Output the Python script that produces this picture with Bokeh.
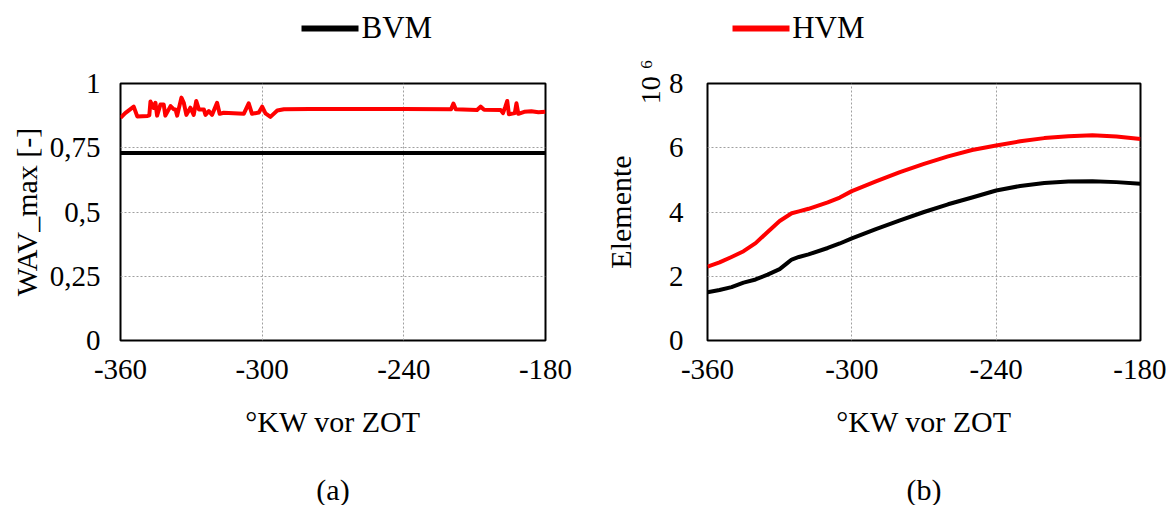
from bokeh.plotting import figure
from bokeh.layouts import column, row
from bokeh.models import (FixedTicker, Legend, LegendItem, Title, Range1d, LinearAxis, Label)
from bokeh.embed import file_html
from bokeh.resources import INLINE

FONT = "Liberation Serif"
TICK_FS = "29px"
LAB_FS = "30px"

series_names = ["BVM", "HVM"]
series_colors = ["black", "#ff0000"]

# (a) WAV_max
wav_bvm_x = [-360, -180]
wav_bvm_y = [0.73, 0.73]
wav_hvm_x = [-360, -358, -354.4, -352.9, -348.5, -347.8, -347.3, -346, -345.2, -344.5, -343.1, -341.7,
             -341, -338.8, -337.5, -336.7, -336, -334.2, -333.2, -332.1, -330.4, -329, -327.9, -326.8,
             -324.7, -324, -322.6, -321.2, -319.1, -318, -316.3, -310, -307.8, -305.7, -304.3, -301.4,
             -300, -298.6, -296.5, -293.6, -290.8, -280, -260, -240, -220, -219, -218, -212, -209,
             -207.5, -206, -199, -198, -197, -196.2, -195.5, -193, -192.3, -191.5, -189, -186, -183, -180]
wav_hvm_y = [0.866, 0.885, 0.91, 0.872, 0.874, 0.876, 0.93, 0.905, 0.925, 0.875, 0.918, 0.918,
             0.875, 0.912, 0.9, 0.899, 0.875, 0.945, 0.925, 0.878, 0.906, 0.878, 0.932, 0.899,
             0.899, 0.878, 0.893, 0.878, 0.925, 0.882, 0.886, 0.883, 0.882, 0.923, 0.882, 0.887,
             0.91, 0.884, 0.87, 0.895, 0.9, 0.901, 0.901, 0.901, 0.9, 0.922, 0.9, 0.898, 0.897,
             0.91, 0.898, 0.897, 0.885, 0.91, 0.932, 0.88, 0.885, 0.923, 0.882, 0.89, 0.892, 0.888, 0.89]

# (b) Elemente (x 10^6)
el_bvm_x = [-360, -355, -350, -345, -340, -335, -330, -327, -325, -322, -318, -310, -305, -300, -290,
            -280, -270, -260, -250, -240, -230, -220, -210, -200, -190, -180]
el_bvm_y = [1.50, 1.57, 1.66, 1.80, 1.90, 2.05, 2.22, 2.40, 2.52, 2.60, 2.68, 2.88, 3.02, 3.18, 3.47,
            3.74, 4.00, 4.24, 4.45, 4.67, 4.81, 4.90, 4.95, 4.96, 4.93, 4.88]
el_hvm_x = [-360, -355, -350, -345, -340, -335, -330, -325, -322, -318, -310, -305, -300, -290, -280,
            -270, -260, -250, -240, -230, -220, -210, -200, -190, -180]
el_hvm_y = [2.30, 2.43, 2.60, 2.78, 3.03, 3.38, 3.72, 3.96, 4.02, 4.10, 4.30, 4.45, 4.65, 4.95, 5.24,
            5.50, 5.73, 5.93, 6.07, 6.20, 6.30, 6.36, 6.39, 6.35, 6.27]

x_ticks = [-360, -300, -240, -180]
x_tick_labels = ["-360", "-300", "-240", "-180"]
wav_ticks = [0, 0.25, 0.5, 0.75, 1]
wav_tick_labels = ["0", "0,25", "0,5", "0,75", "1"]
el_ticks = [0, 2, 4, 6, 8]
el_tick_labels = ["0", "2", "4", "6", "8"]

x_label = "°KW vor ZOT"
captions = ["(a)", "(b)"]


def text_axis(ax):
    ax.axis_line_color = None
    ax.major_tick_line_color = None
    ax.minor_tick_line_color = None
    ax.major_tick_out = 0
    ax.major_tick_in = 0
    ax.minor_tick_out = 0
    ax.minor_tick_in = 0
    ax.major_label_text_font = FONT
    ax.major_label_text_font_size = TICK_FS
    ax.major_label_text_color = "black"
    ax.axis_label_text_font = FONT
    ax.axis_label_text_font_size = LAB_FS
    ax.axis_label_text_font_style = "normal"
    ax.axis_label_text_color = "black"


def style(p, yticks, ylabels):
    p.xaxis.ticker = FixedTicker(ticks=x_ticks)
    p.yaxis.ticker = FixedTicker(ticks=yticks)
    p.xaxis.major_label_overrides = {t: l for t, l in zip(x_ticks, x_tick_labels)}
    p.yaxis.major_label_overrides = {t: l for t, l in zip(yticks, ylabels)}
    text_axis(p.xaxis[0])
    text_axis(p.yaxis[0])
    p.xaxis.major_label_standoff = 19
    p.xaxis.axis_label = x_label
    p.xaxis.axis_label_standoff = 23
    p.grid.grid_line_color = "#a0a0a0"
    p.grid.grid_line_dash = "2 2"
    p.grid.grid_line_width = 1
    p.outline_line_color = "black"
    p.outline_line_width = 2
    p.background_fill_color = None
    p.border_fill_color = None


ROW_H = 418

pa = figure(width=590, height=ROW_H, output_backend="svg", toolbar_location=None,
            x_range=Range1d(-360, -180), y_range=Range1d(0, 1),
            min_border_left=120, min_border_right=45, min_border_top=28, min_border_bottom=133)
style(pa, wav_ticks, wav_tick_labels)
pa.yaxis.major_label_standoff = 20
pa.yaxis.axis_label = "WAV_max [-]"
pa.yaxis.axis_label_standoff = 4
pa.line(wav_bvm_x, wav_bvm_y, line_color=series_colors[0], line_width=4)
pa.line(wav_hvm_x, wav_hvm_y, line_color=series_colors[1], line_width=4, line_join="round")

pb = figure(width=576, height=ROW_H, output_backend="svg", toolbar_location=None,
            x_range=Range1d(-360, -180), y_range=Range1d(0, 8),
            min_border_left=117, min_border_right=26, min_border_top=28, min_border_bottom=133)
style(pb, el_ticks, el_tick_labels)
pb.yaxis.major_label_standoff = 24
# exponent note at the top of the value axis
pb.add_layout(Title(text="10 ⁶", align="right", text_font=FONT, text_font_size="28px",
                    text_font_style="normal", text_color="black", offset=-24, standoff=0), "left")
name_axis = LinearAxis(ticker=FixedTicker(ticks=[]), axis_label="Elemente",
                       axis_label_standoff=-4, major_label_standoff=0)
text_axis(name_axis)
pb.add_layout(name_axis, "left")
pb.line(el_bvm_x, el_bvm_y, line_color=series_colors[0], line_width=4, line_join="round")
pb.line(el_hvm_x, el_hvm_y, line_color=series_colors[1], line_width=4, line_join="round")


def caption_strip(width, left, right, txt):
    c = figure(width=width, height=32, output_backend="svg", toolbar_location=None,
               x_range=Range1d(0, 1), y_range=Range1d(0, 1),
               min_border_left=left, min_border_right=right, min_border_top=0, min_border_bottom=0,
               outline_line_color=None)
    c.axis.visible = False
    c.grid.visible = False
    c.add_layout(Label(x=0.5, y=0.5, text=txt, text_align="center", text_baseline="middle",
                       text_font=FONT, text_font_size=LAB_FS, text_color="black"))
    return c


ca = caption_strip(590, 120, 45, captions[0])
cb = caption_strip(576, 117, 26, captions[1])

pl = figure(width=1166, height=55, output_backend="svg", toolbar_location=None,
            x_range=Range1d(0, 1), y_range=Range1d(0, 1),
            min_border=0, outline_line_color=None)
pl.axis.visible = False
pl.grid.visible = False
# legend-only renderers (their data lies outside this strip's ranges)
r0 = pl.line(wav_bvm_x, wav_bvm_y, line_color=series_colors[0], line_width=6, line_cap="round")
r1 = pl.line(wav_hvm_x, wav_hvm_y, line_color=series_colors[1], line_width=6, line_cap="round")
leg = Legend(items=[LegendItem(label=series_names[0], renderers=[r0]),
                    LegendItem(label=series_names[1], renderers=[r1])],
             orientation="horizontal", location="center", spacing=300,
             glyph_width=57, label_standoff=3, label_text_font=FONT,
             label_text_font_size="31px", label_text_color="black",
             border_line_color=None, background_fill_alpha=0, padding=0, margin=0)
pl.add_layout(leg, "center")

layout = column(pl, row(pa, pb), row(ca, cb))
open("out.html", "w").write(file_html(layout, INLINE))
